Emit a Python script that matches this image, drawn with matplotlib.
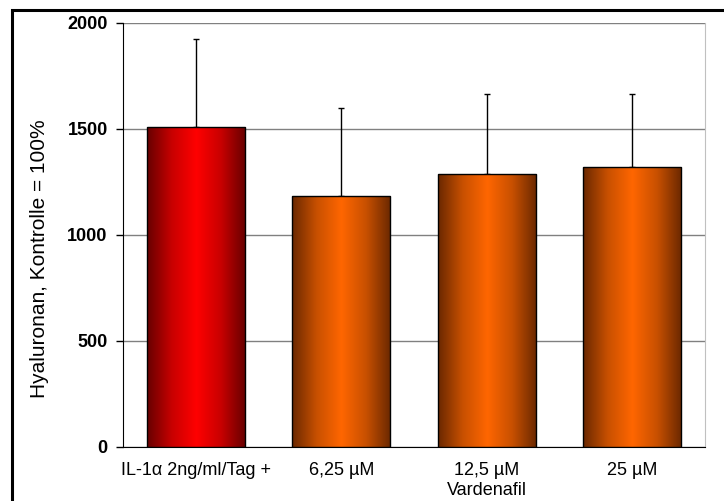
import numpy as np
import matplotlib
matplotlib.use("Agg")
import matplotlib.pyplot as plt
from matplotlib.colors import LinearSegmentedColormap
from matplotlib.patches import Rectangle

categories = ["IL-1\u03b1 2ng/ml/Tag +", "6,25 \u00b5M", "12,5 \u00b5M\nVardenafil", "25 \u00b5M"]
values = [1510, 1185, 1285, 1318]
errors_upper = [413, 413, 378, 345]
y_ticks = [0, 500, 1000, 1500, 2000]

plt.rcParams["font.family"] = ["Liberation Sans", "DejaVu Sans"]

fig = plt.figure(figsize=(7.24, 5.01), dpi=100)
ax = fig.add_axes([0.1699, 0.1078, 0.8039, 0.8469])

red_cmap = LinearSegmentedColormap.from_list(
    "red_cyl", ["#660000", "#c80000", "#ff0000", "#c80000", "#660000"])
orange_cmap = LinearSegmentedColormap.from_list(
    "orange_cyl", ["#6a2800", "#c85000", "#ff6600", "#c85000", "#6a2800"])

x = np.arange(len(categories))
width = 0.675
grad = np.linspace(0, 1, 256).reshape(1, -1)

for i, (xi, v) in enumerate(zip(x, values)):
    cmap = red_cmap if i == 0 else orange_cmap
    left = xi - width / 2
    rect = Rectangle((left, 0), width, v, facecolor="none",
                     edgecolor="black", linewidth=1.0, zorder=4)
    ax.add_patch(rect)
    im = ax.imshow(grad, cmap=cmap, aspect="auto",
                   extent=(left, left + width, 0, v), zorder=3)
    im.set_clip_path(rect)

ax.errorbar(x, values, yerr=[np.zeros(len(values)), errors_upper],
            fmt="none", ecolor="black", elinewidth=1.0, capsize=2.5,
            capthick=1.0, zorder=2)

ax.set_xlim(-0.5, len(categories) - 0.5)
ax.set_ylim(0, 2000)
ax.set_yticks(y_ticks)
ax.set_yticklabels([str(t) for t in y_ticks], fontsize=13, fontweight="bold")
ax.set_xticks(x)
ax.set_xticklabels(categories, fontsize=13, linespacing=1.2)
ax.tick_params(axis="x", length=0, pad=11)
ax.tick_params(axis="y", length=5, width=1, direction="out", pad=6)

ax.yaxis.grid(True, color="#808080", linewidth=1.0)
ax.set_axisbelow(True)

ax.spines["left"].set_color("black")
ax.spines["bottom"].set_color("black")
ax.spines["top"].set_visible(False)
ax.spines["right"].set_color("#c0c0c0")

ax.set_ylabel("Hyaluronan, Kontrolle = 100%", fontsize=15)
ax.yaxis.set_label_coords((49 - 123) / 582, 0.443)

# frame around the whole chart
fig.patches.append(Rectangle((12 / 724, -0.1), 1.2, 1 - 10 / 501 + 0.1,
                             transform=fig.transFigure, fill=False,
                             edgecolor="black", linewidth=2.2, zorder=10))

fig.savefig("out.png", dpi=100)
